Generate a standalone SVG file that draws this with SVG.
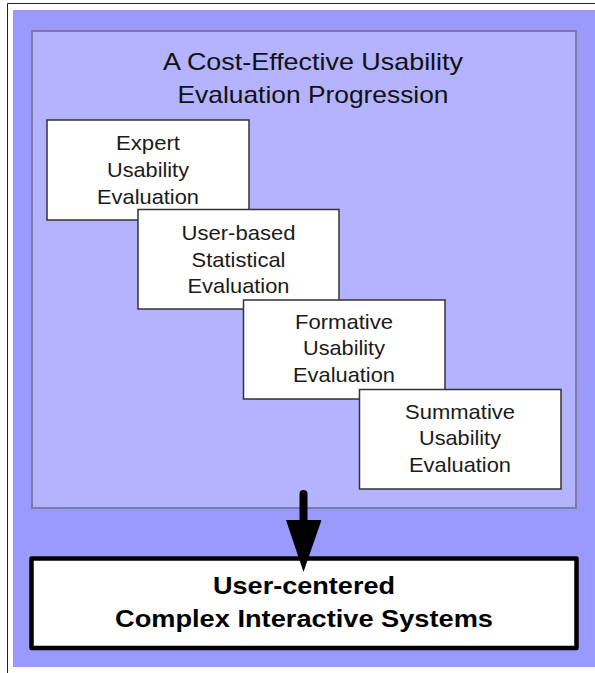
<svg xmlns="http://www.w3.org/2000/svg" width="595" height="673" viewBox="0 0 595 673">
  <style>
    .box { fill: #ffffff; stroke: #333333; stroke-width: 1.5; }
    .t { font-family: "Liberation Sans", Arial, sans-serif; font-size: 21px; fill: #1a1a1a; text-anchor: middle; }
    .title { font-family: "Liberation Sans", Arial, sans-serif; font-size: 24px; fill: #111111; text-anchor: middle; }
    .bold { font-family: "Liberation Sans", Arial, sans-serif; font-size: 24.5px; font-weight: bold; fill: #000000; text-anchor: middle; }
  </style>
  <rect x="0" y="0" width="595" height="673" fill="#ffffff"/>
  <g id="frame">
    <path d="M7.5 673 V3.5 H595" fill="none" stroke="#222222" stroke-width="1"/>
    <rect x="13" y="10" width="582" height="657" fill="#9999ff"/>
  </g>
  <g id="panel">
    <rect x="32" y="31" width="544" height="477" fill="#b3b3ff" stroke="#7a7aa6" stroke-width="2"/>
    <text class="title" x="313" y="70" textLength="300" lengthAdjust="spacingAndGlyphs">A Cost-Effective Usability</text>
    <text class="title" x="313" y="103" textLength="271" lengthAdjust="spacingAndGlyphs">Evaluation Progression</text>
  </g>
  <g id="expert">
    <rect class="box" x="47" y="120" width="202" height="100"/>
    <text class="t" x="148" y="150" textLength="64" lengthAdjust="spacingAndGlyphs">Expert</text>
    <text class="t" x="148" y="177" textLength="82" lengthAdjust="spacingAndGlyphs">Usability</text>
    <text class="t" x="148" y="203.5" textLength="102" lengthAdjust="spacingAndGlyphs">Evaluation</text>
  </g>
  <g id="userbased">
    <rect class="box" x="138" y="209.5" width="201" height="99.5"/>
    <text class="t" x="238.5" y="239.5" textLength="114" lengthAdjust="spacingAndGlyphs">User-based</text>
    <text class="t" x="238.5" y="266.5" textLength="94" lengthAdjust="spacingAndGlyphs">Statistical</text>
    <text class="t" x="238.5" y="293" textLength="102" lengthAdjust="spacingAndGlyphs">Evaluation</text>
  </g>
  <g id="formative">
    <rect class="box" x="243.5" y="300" width="201.5" height="99"/>
    <text class="t" x="344" y="328.5" textLength="98" lengthAdjust="spacingAndGlyphs">Formative</text>
    <text class="t" x="344" y="355" textLength="82" lengthAdjust="spacingAndGlyphs">Usability</text>
    <text class="t" x="344" y="381.5" textLength="102" lengthAdjust="spacingAndGlyphs">Evaluation</text>
  </g>
  <g id="summative">
    <rect class="box" x="359.5" y="389.5" width="201.5" height="99.5"/>
    <text class="t" x="460" y="418.5" textLength="110" lengthAdjust="spacingAndGlyphs">Summative</text>
    <text class="t" x="460" y="445" textLength="82" lengthAdjust="spacingAndGlyphs">Usability</text>
    <text class="t" x="460" y="471.5" textLength="102" lengthAdjust="spacingAndGlyphs">Evaluation</text>
  </g>
  <g id="systems">
    <rect x="31.5" y="558.5" width="545" height="89.5" fill="#ffffff" stroke="#000000" stroke-width="4.5" stroke-linejoin="round"/>
    <text class="bold" x="304" y="594" textLength="182" lengthAdjust="spacingAndGlyphs">User-centered</text>
    <text class="bold" x="304" y="627" textLength="378" lengthAdjust="spacingAndGlyphs">Complex Interactive Systems</text>
  </g>
  <g id="connectors">
    <line x1="303.5" y1="494" x2="303.5" y2="522" stroke="#000000" stroke-width="8" stroke-linecap="round"/>
    <polygon points="286,520 321.5,520 303.5,572" fill="#000000"/>
  </g>
</svg>
